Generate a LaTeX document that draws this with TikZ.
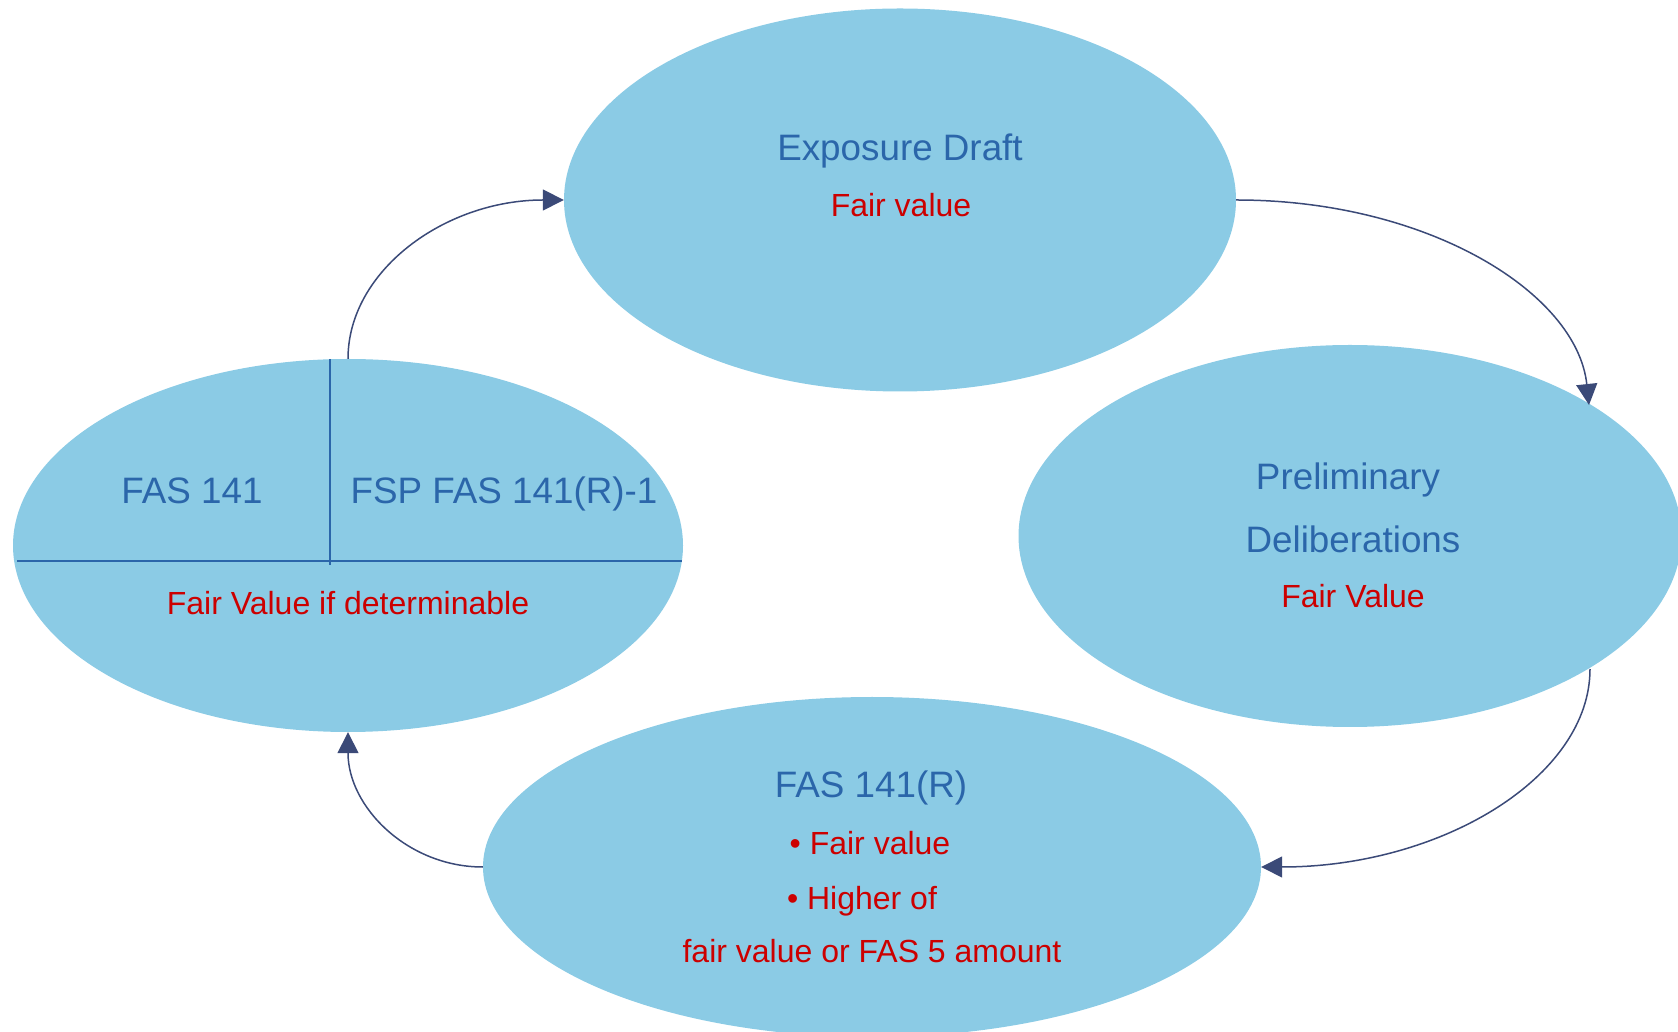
\documentclass[tikz,border=0pt]{standalone}
\usepackage{fontspec}
\setmainfont{Liberation Sans}
\usetikzlibrary{shapes.geometric,arrows.meta,calc}
\definecolor{ellfill}{RGB}{139,203,229}
\definecolor{ttlblue}{RGB}{43,102,170}
\definecolor{txtred}{RGB}{204,0,0}
\definecolor{arrcol}{RGB}{59,74,120}
\begin{document}
\begin{tikzpicture}[x=1pt,y=1pt,
  stage/.style={ellipse, fill=ellfill, draw=none, inner sep=0pt},
  ttl/.style={anchor=base, inner sep=0pt, text=ttlblue, font=\fontsize{36.8}{40}\selectfont},
  sub/.style={anchor=base, inner sep=0pt, text=txtred, font=\fontsize{32}{36}\selectfont},
  arr/.style={draw=arrcol, line width=1.5pt, -{Triangle[length=21pt,width=21pt]}},
  divider/.style={draw=ttlblue, line width=2pt}]
\useasboundingbox (0,0) rectangle (1678,1031);
% ellipses
\node[stage, minimum width=672pt, minimum height=383pt] (top) at (900,831) {};
\node[stage, minimum width=663pt, minimum height=382pt] (right) at (1350,495) {};
\node[stage, minimum width=778pt, minimum height=340pt] (bottom) at (872,164) {};
\node[stage, minimum width=670pt, minimum height=373pt] (left) at (348,485.5) {};
\coordinate (rin) at ($(right.center)+(239,131)$);
\coordinate (rout) at ($(right.center)+(240,-133)$);
% dividers in left ellipse
\draw[divider] ($(left.center)+(-331,-16)$) -- ($(left.center)+(334,-16)$);
\draw[divider] ($(left.center)+(-18,186)$) -- ($(left.center)+(-18,-20)$);
% texts
\node[ttl] (t1) at (900,870.3) {Exposure Draft};
\node[sub] (t2) at (901,814.3) {Fair value};
\node[ttl] (r1) at (1348,541) {Preliminary};
\node[ttl] (r2) at (1353,478) {Deliberations};
\node[sub] (r3) at (1353,423) {Fair Value};
\node[ttl] (b1) at (871,233) {FAS 141(R)};
\node[sub] (b2) at (870,176) {• Fair value};
\node[sub] (b3) at (862,122) {• Higher of};
\node[sub] (b4) at (872,69) {fair value or FAS 5 amount};
\node[ttl] (l1) at (192,527) {FAS 141};
\node[ttl] (l2) at (504,527) {FSP FAS 141(R)-1};
\node[sub] (l3) at (348,416) {Fair Value if determinable};
% connectors
\draw[arr] (left.north) .. controls ($(left.north)+(0,88)$) and ($(top.west)+(-119,0)$) .. (top.west);
\draw[arr] (top.east) .. controls ($(top.east)+(192,0)$) and ($(rin)+(-12,112)$) .. (rin);
\draw[arr] (rout) .. controls ($(rout)+(0,-108)$) and ($(bottom.east)+(180,0)$) .. (bottom.east);
\draw[arr] (bottom.west) .. controls ($(bottom.west)+(-75,0)$) and ($(left.south)+(0,-75)$) .. (left.south);
\end{tikzpicture}
\end{document}
